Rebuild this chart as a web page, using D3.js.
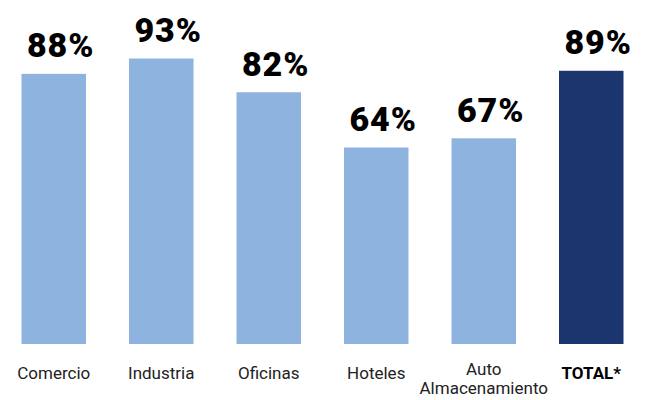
<!DOCTYPE html>
<html>
<head>
<meta charset="utf-8">
<script src="https://cdn.jsdelivr.net/npm/d3@7"></script>
<style>
  html, body { margin: 0; padding: 0; background: #fff; }
  svg { display: block; }
</style>
</head>
<body>
<svg id="chart" width="651" height="400"></svg>
<script>
// Occupancy share by property type
const categories = ["Comercio", "Industria", "Oficinas", "Hoteles", "Auto Almacenamiento", "TOTAL*"];
const categoryLines = [["Comercio"], ["Industria"], ["Oficinas"], ["Hoteles"], ["Auto", "Almacenamiento"], ["TOTAL*"]];
const values = [88, 93, 82, 64, 67, 89];
const isTotal = [false, false, false, false, false, true];

const W = 651, H = 400;
const baseline = 344;
const svg = d3.select("#chart");

const x = d3.scaleBand()
  .domain(categories)
  .range([0, 645])
  .paddingInner(0.4)
  .paddingOuter(0.2);

const y = d3.scaleLinear()
  .domain([0, 100])
  .range([baseline, 37]);

const barColor = "#8DB3DE";
const totalColor = "#1B366E";

// bars
svg.append("g")
  .selectAll("rect")
  .data(values)
  .join("rect")
  .attr("x", (d, i) => x(categories[i]))
  .attr("y", d => y(d))
  .attr("width", x.bandwidth())
  .attr("height", d => y(0) - y(d))
  .attr("fill", (d, i) => isTotal[i] ? totalColor : barColor);

// value labels
svg.append("g")
  .selectAll("text")
  .data(values)
  .join("text")
  .attr("x", (d, i) => x(categories[i]) + x.bandwidth() / 2 + 7)
  .attr("y", d => y(d) - 16.5)
  .attr("text-anchor", "middle")
  .attr("font-family", "Roboto, sans-serif")
  .attr("font-weight", 900)
  .attr("font-size", 34)
  .attr("letter-spacing", 1)
  .attr("fill", "#000")
  .text(d => d + "%");

// category labels
const labels = svg.append("g")
  .selectAll("text")
  .data(categoryLines)
  .join("text")
  .attr("x", (d, i) => x(categories[i]) + x.bandwidth() / 2)
  .attr("y", d => d.length > 1 ? 375 : 379)
  .attr("text-anchor", "middle")
  .attr("font-family", "Roboto, sans-serif")
  .attr("font-size", 17)
  .attr("font-weight", (d, i) => isTotal[i] ? 700 : 400)
  .attr("fill", (d, i) => isTotal[i] ? "#000" : "#222");

labels.selectAll("tspan")
  .data(d => d)
  .join("tspan")
  .attr("x", function () { return d3.select(this.parentNode).attr("x"); })
  .attr("dy", (d, j) => j === 0 ? 0 : 19)
  .text(d => d);
</script>
</body>
</html>
